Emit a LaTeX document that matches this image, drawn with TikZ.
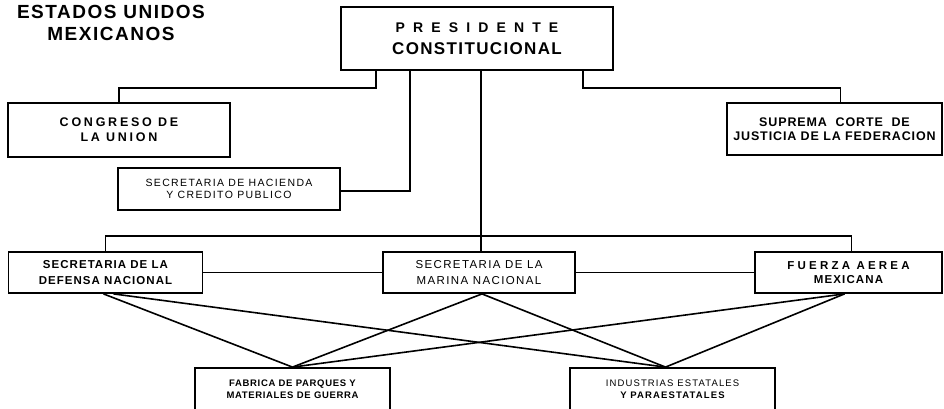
\documentclass[tikz,border=0pt]{standalone}
\usepackage{fontspec}
\setmainfont{Liberation Sans}
\newcommand\lsf[4][\bfseries]{#1\fontsize{#2}{#3}\selectfont\addfontfeatures{LetterSpace=#4}}
\begin{document}
\begin{tikzpicture}[x=1pt,y=-1pt,
  box/.style={draw, line width=1.8pt, inner sep=0pt, align=center},
  conn/.style={line width=1.6pt},
]
\useasboundingbox (0,0) rectangle (944,408);
\clip (0,0) rectangle (944,408);
% title
\node[align=center, inner sep=0pt, font={\lsf{19}{21.5}{8}}] (title) at (111,23)
  {ESTADOS UNIDOS\\MEXICANOS};
% boxes
\node[box, minimum width=272pt, minimum height=63pt, font={\lsf{17}{22}{8}}] (pres) at (477,38.5)
  {{\fontsize{14}{22}\selectfont\addfontfeatures{LetterSpace=58}PRESIDENTE}\\CONSTITUCIONAL};
\node[box, minimum width=222pt, minimum height=54pt, font={\lsf{12.5}{15}{22}}] (cong) at (119,130)
  {CONGRESO DE\\LA UNION};
\node[box, minimum width=215pt, minimum height=52pt, font={\lsf{12.5}{14.5}{7}}] (supr) at (834.5,129)
  {SUPREMA\ \ CORTE\ \ DE\\JUSTICIA DE LA FEDERACION};
\node[box, minimum width=222pt, minimum height=42pt, font={\lsf[\mdseries]{10.5}{12.5}{13}}] (shcp) at (229,189)
  {SECRETARIA DE HACIENDA\\Y CREDITO PUBLICO};
\node[box, minimum width=194pt, minimum height=41pt, font={\lsf{11.5}{16}{9}}] (def) at (105.5,272.5)
  {SECRETARIA DE LA\\DEFENSA NACIONAL};
\node[box, minimum width=192pt, minimum height=41pt, font={\lsf[\mdseries]{11.5}{16}{12}}] (mar) at (479,272.5)
  {SECRETARIA DE LA\\MARINA NACIONAL};
\node[box, minimum width=187pt, minimum height=41pt, font={\lsf{11.5}{14.5}{10}}] (fue) at (848.5,272.5)
  {{\addfontfeatures{LetterSpace=28}FUERZA AEREA}\\MEXICANA};
\node[box, minimum width=195pt, minimum height=42pt, font={\lsf{9.5}{12.5}{7}}] (fab) at (292.5,389)
  {FABRICA DE PARQUES Y\\MATERIALES DE GUERRA};
\node[box, minimum width=205pt, minimum height=42pt, font={\lsf{9.5}{12.5}{12}}] (ind) at (672.5,389)
  {{\mdseries INDUSTRIAS ESTATALES}\\Y PARAESTATALES};
% connectors
\draw[conn] ([xshift=-101pt]pres.south) -- ++(0,17) -| (cong.north);
\draw[conn] ([xshift=106pt]pres.south) -- ++(0,17) -| ([xshift=6pt]supr.north);
\draw[conn] ([xshift=-67pt]pres.south) |- ([yshift=-2pt]shcp.east);
\draw[conn] ([xshift=4pt]pres.south) -- ([xshift=4pt]pres.south |- mar.north);
\draw[conn] (def.north) -- ++(0,-15) -| ([xshift=3pt]fue.north);
\draw[conn] (def.east) -- (mar.west);
\draw[conn] (mar.east) -- (fue.west);
\coordinate (indtop) at ([xshift=-7pt]ind.north);
\coordinate (defa) at ([xshift=-2pt]def.south);
\coordinate (defb) at ([xshift=8pt]def.south);
\coordinate (mara) at ([xshift=3pt]mar.south);
\coordinate (fuea) at ([xshift=-4pt]fue.south);
\draw[conn] (defa) -- (fab.north);
\draw[conn] (defb) -- (indtop);
\draw[conn] (mara) -- (fab.north);
\draw[conn] (mara) -- (indtop);
\draw[conn] (fuea) -- (fab.north);
\draw[conn] (fuea) -- (indtop);
\end{tikzpicture}
\end{document}
